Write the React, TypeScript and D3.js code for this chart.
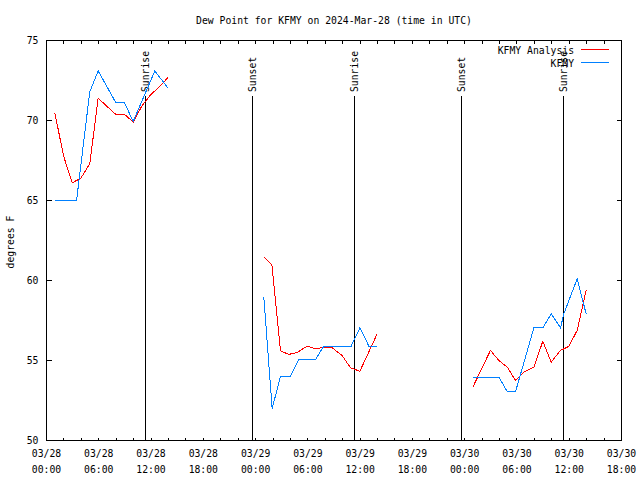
import React from "react";
import * as d3 from "d3";

// hours after 2024-03-28 00:00 UTC
const analysisHours = [
  0.95, 1.95, 2.95, 3.95, 4.97, 5.93, 6.9, 7.92, 8.92, 9.95, 10.94, 11.94, 12.95, 13.97, NaN,
  24.94, 25.88, 26.86, 27.8, 28.77, 29.92, 30.88, 31.83, 32.8, 33.94, 34.9, 35.97, 37.96, NaN,
  48.93, 50.96, 51.92, 52.9, 53.84, 54.8, 55.95, 56.97, 57.93, 59.0, 59.95, 60.91, 61.94,
];
const analysisValues = [
  70.5, 67.8, 66.1, 66.4, 67.3, 71.4, 70.9, 70.4, 70.4, 69.9, 70.9, 71.6, 72.1, 72.7, NaN,
  61.5, 60.95, 55.6, 55.38, 55.5, 55.9, 55.73, 55.83, 55.79, 55.31, 54.54, 54.33, 56.67, NaN,
  53.33, 55.63, 55.0, 54.58, 53.75, 54.27, 54.58, 56.21, 54.9, 55.63, 55.88, 56.88, 59.38,
];

const obsHours = [
  0.95, 1.95, 2.95, 3.45, 4.97, 5.93, 7.92, 8.92, 9.95, 12.44, 13.97, NaN,
  24.94, 25.9, 26.86, 28.0, 28.96, 30.88, 31.83, 34.97, 35.97, 37.0, 37.96, NaN,
  48.93, 51.92, 52.88, 53.84, 55.94, 56.97, 57.93, 59.0, 59.38, 60.91, 61.94,
];
const obsValues = [
  65.0, 65.0, 65.0, 65.0, 71.8, 73.1, 71.15, 71.15, 69.94, 73.1, 72.0, NaN,
  59.0, 52.0, 54.0, 54.0, 55.06, 55.06, 55.9, 55.9, 57.04, 55.9, 55.9, NaN,
  53.96, 53.96, 53.06, 53.06, 57.04, 57.04, 57.92, 57.04, 57.92, 60.1, 57.92,
];

const sunEventHours = [11.37, 23.65, 35.36, 47.65, 59.35];
const sunEventLabels = ["Sunrise", "Sunset", "Sunrise", "Sunset", "Sunrise"];

const xTickHours = d3.range(0, 67, 2);
const xLabelHours = [0, 6, 12, 18, 24, 30, 36, 42, 48, 54, 60, 66];
const xLabelDates = ["03/28", "03/28", "03/28", "03/28", "03/29", "03/29", "03/29", "03/29", "03/30", "03/30", "03/30", "03/30"];
const xLabelTimes = ["00:00", "06:00", "12:00", "18:00", "00:00", "06:00", "12:00", "18:00", "00:00", "06:00", "12:00", "18:00"];
const yTicks = [50, 55, 60, 65, 70, 75];

const seriesNames = ["KFMY Analysis", "KFMY"];
const seriesColors = ["#ff0000", "#0080ff"];

const FONT = "'DejaVu Sans Mono', 'Liberation Mono', monospace";

export default function App() {
  const W = 640, H = 480;
  const x = d3.scaleLinear().domain([0, 66]).range([46.5, 621.5]);
  const y = d3.scaleLinear().domain([50, 75]).range([440.5, 40.5]);

  const mk = (hs: number[], vs: number[]) =>
    d3
      .line<number>()
      .defined((i) => !isNaN(hs[i]) && !isNaN(vs[i]))
      .x((i) => x(hs[i]))
      .y((i) => y(vs[i]))(d3.range(hs.length)) || "";

  const redPath = mk(analysisHours, analysisValues);
  const bluePath = mk(obsHours, obsValues);
  const top = y.range()[1], bottom = y.range()[0];
  const left = x.range()[0], right = x.range()[1];

  return (
    <svg
      width={W}
      height={H}
      style={{ position: "absolute", left: 0, top: 0, background: "#fff" }}
      fontFamily={FONT}
      fontSize={9.75}
    >
      <rect x={0} y={0} width={W} height={H} fill="#fff" />
      <text x={(left + right) / 2} y={23.5} textAnchor="middle" fill="#000">
        Dew Point for KFMY on 2024-Mar-28 (time in UTC)
      </text>

      {/* ticks */}
      <g stroke="#000" strokeWidth={1} shapeRendering="crispEdges">
        {xTickHours.map((h) => (
          <g key={"xt" + h}>
            <line x1={x(h)} x2={x(h)} y1={bottom} y2={bottom - 3} />
            <line x1={x(h)} x2={x(h)} y1={top} y2={top + 3} />
          </g>
        ))}
        {yTicks.map((v) => (
          <g key={"yt" + v}>
            <line x1={left} x2={left + 5} y1={y(v)} y2={y(v)} />
            <line x1={right} x2={right - 5} y1={y(v)} y2={y(v)} />
          </g>
        ))}
      </g>

      {/* tick labels */}
      {yTicks.map((v) => (
        <text key={"yl" + v} x={38.5} y={y(v) + 3.5} textAnchor="end" fill="#000">
          {v}
        </text>
      ))}
      {xLabelHours.map((h, i) => (
        <g key={"xl" + h}>
          <text x={x(h)} y={457} textAnchor="middle" fill="#000">
            {xLabelDates[i]}
          </text>
          <text x={x(h)} y={473} textAnchor="middle" fill="#000">
            {xLabelTimes[i]}
          </text>
        </g>
      ))}
      <text transform="translate(13.5,242) rotate(-90)" textAnchor="middle" fill="#000">
        degrees F
      </text>

      {/* sunrise / sunset markers */}
      {sunEventHours.map((h, i) => (
        <g key={"sun" + i}>
          <line x1={x(h)} x2={x(h)} y1={96} y2={bottom} stroke="#000" strokeWidth={1} shapeRendering="crispEdges" />
          <text transform={`translate(${x(h) + 3.5},92) rotate(-90)`} textAnchor="start" fill="#000">
            {sunEventLabels[i]}
          </text>
        </g>
      ))}

      {/* data */}
      <path d={redPath} fill="none" stroke={seriesColors[0]} strokeWidth={1} shapeRendering="crispEdges" />
      <path d={bluePath} fill="none" stroke={seriesColors[1]} strokeWidth={1} shapeRendering="crispEdges" />

      {/* legend */}
      {seriesNames.map((n, i) => (
        <g key={n}>
          <text x={574} y={54 + i * 12.5} textAnchor="end" fill="#000">
            {n}
          </text>
          <line x1={581} x2={609} y1={49.5 + i * 13} y2={49.5 + i * 13} stroke={seriesColors[i]} strokeWidth={1} shapeRendering="crispEdges" />
        </g>
      ))}

      {/* border */}
      <rect x={left} y={top} width={right - left} height={bottom - top} fill="none" stroke="#000" strokeWidth={1} shapeRendering="crispEdges" />
    </svg>
  );
}
